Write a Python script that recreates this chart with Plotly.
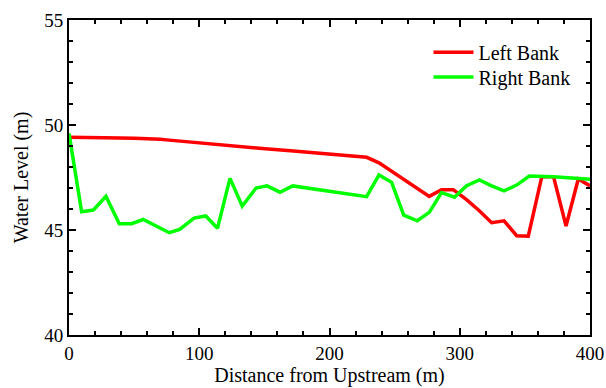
import plotly.graph_objects as go

left_x = [0, 10, 19, 28, 39, 50, 57, 70, 77, 90, 100, 120, 146, 170, 200, 228.5, 238, 257, 276.6, 286, 295, 305, 315, 324.5, 334, 343.7, 352.6, 363, 372, 381.6, 391, 400]
left_y = [49.42, 49.42, 49.41, 49.42, 49.38, 49.37, 49.36, 49.32, 49.28, 49.2, 49.14, 49.03, 48.89, 48.77, 48.62, 48.46, 48.2, 47.4, 46.6, 46.92, 46.92, 46.46, 45.92, 45.35, 45.44, 44.73, 44.71, 47.54, 47.54, 45.19, 47.43, 47.1]

right_x = [0, 9.7, 18.7, 28.4, 38.6, 48, 57, 67, 77, 85, 96, 105, 114, 123.6, 133, 143.6, 152, 162, 171.7, 228.5, 238, 247.7, 257, 267.4, 276.6, 286, 296, 305, 315, 324.5, 334, 343.7, 353.4, 371.8, 391, 400]
right_y = [49.6, 45.87, 45.95, 46.6, 45.3, 45.3, 45.5, 45.2, 44.87, 45.03, 45.57, 45.67, 45.08, 47.46, 46.14, 47.0, 47.1, 46.8, 47.1, 46.59, 47.62, 47.27, 45.71, 45.44, 45.84, 46.78, 46.56, 47.1, 47.38, 47.1, 46.86, 47.14, 47.57, 47.54, 47.43, 47.42]

fig = go.Figure()
fig.add_trace(go.Scatter(x=left_x, y=left_y, mode="lines", name="Left Bank",
                         line=dict(color="#ff0000", width=3.5), legend="legend", showlegend=True))
fig.add_trace(go.Scatter(x=right_x, y=right_y, mode="lines", name="Right Bank",
                         line=dict(color="#00ff00", width=3.5), legend="legend2", showlegend=True))

serif = "Liberation Serif, Times New Roman, serif"
tick_font = dict(family=serif, size=19, color="black")
title_font = dict(family=serif, size=20, color="black")
axis_common = dict(showline=True, linecolor="black", linewidth=2, mirror="allticks",
                   ticks="inside", ticklen=7, tickwidth=2, tickcolor="black",
                   showgrid=False, zeroline=False, tickfont=tick_font, automargin=False)

fig.update_xaxes(range=[0, 400], dtick=100, title=dict(text="Distance from Upstream (m)", font=title_font, standoff=3),
                 minor=dict(dtick=20, ticks="inside", ticklen=4, tickwidth=2, tickcolor="black"),
                 **axis_common)
fig.update_yaxes(range=[40, 55], dtick=5, title=dict(text="Water Level (m)", font=title_font, standoff=10),
                 minor=dict(dtick=1, ticks="inside", ticklen=4, tickwidth=2, tickcolor="black"),
                 **axis_common)

leg_font = dict(family=serif, size=20, color="black")
fig.update_layout(width=606, height=388, margin=dict(l=69, r=16, t=20, b=53),
                  plot_bgcolor="white", paper_bgcolor="white", font=tick_font, showlegend=True,
                  legend=dict(x=0.69, y=0.898, xanchor="left", yanchor="middle", bgcolor="rgba(0,0,0,0)",
                              font=leg_font, itemwidth=40, visible=True),
                  legend2=dict(x=0.69, y=0.819, xanchor="left", yanchor="middle", bgcolor="rgba(0,0,0,0)",
                               font=leg_font, itemwidth=40, visible=True))
fig.write_html("out.html", config={"displayModeBar": False},
               post_script="document.body.style.margin='0';document.body.style.overflow='hidden';")
